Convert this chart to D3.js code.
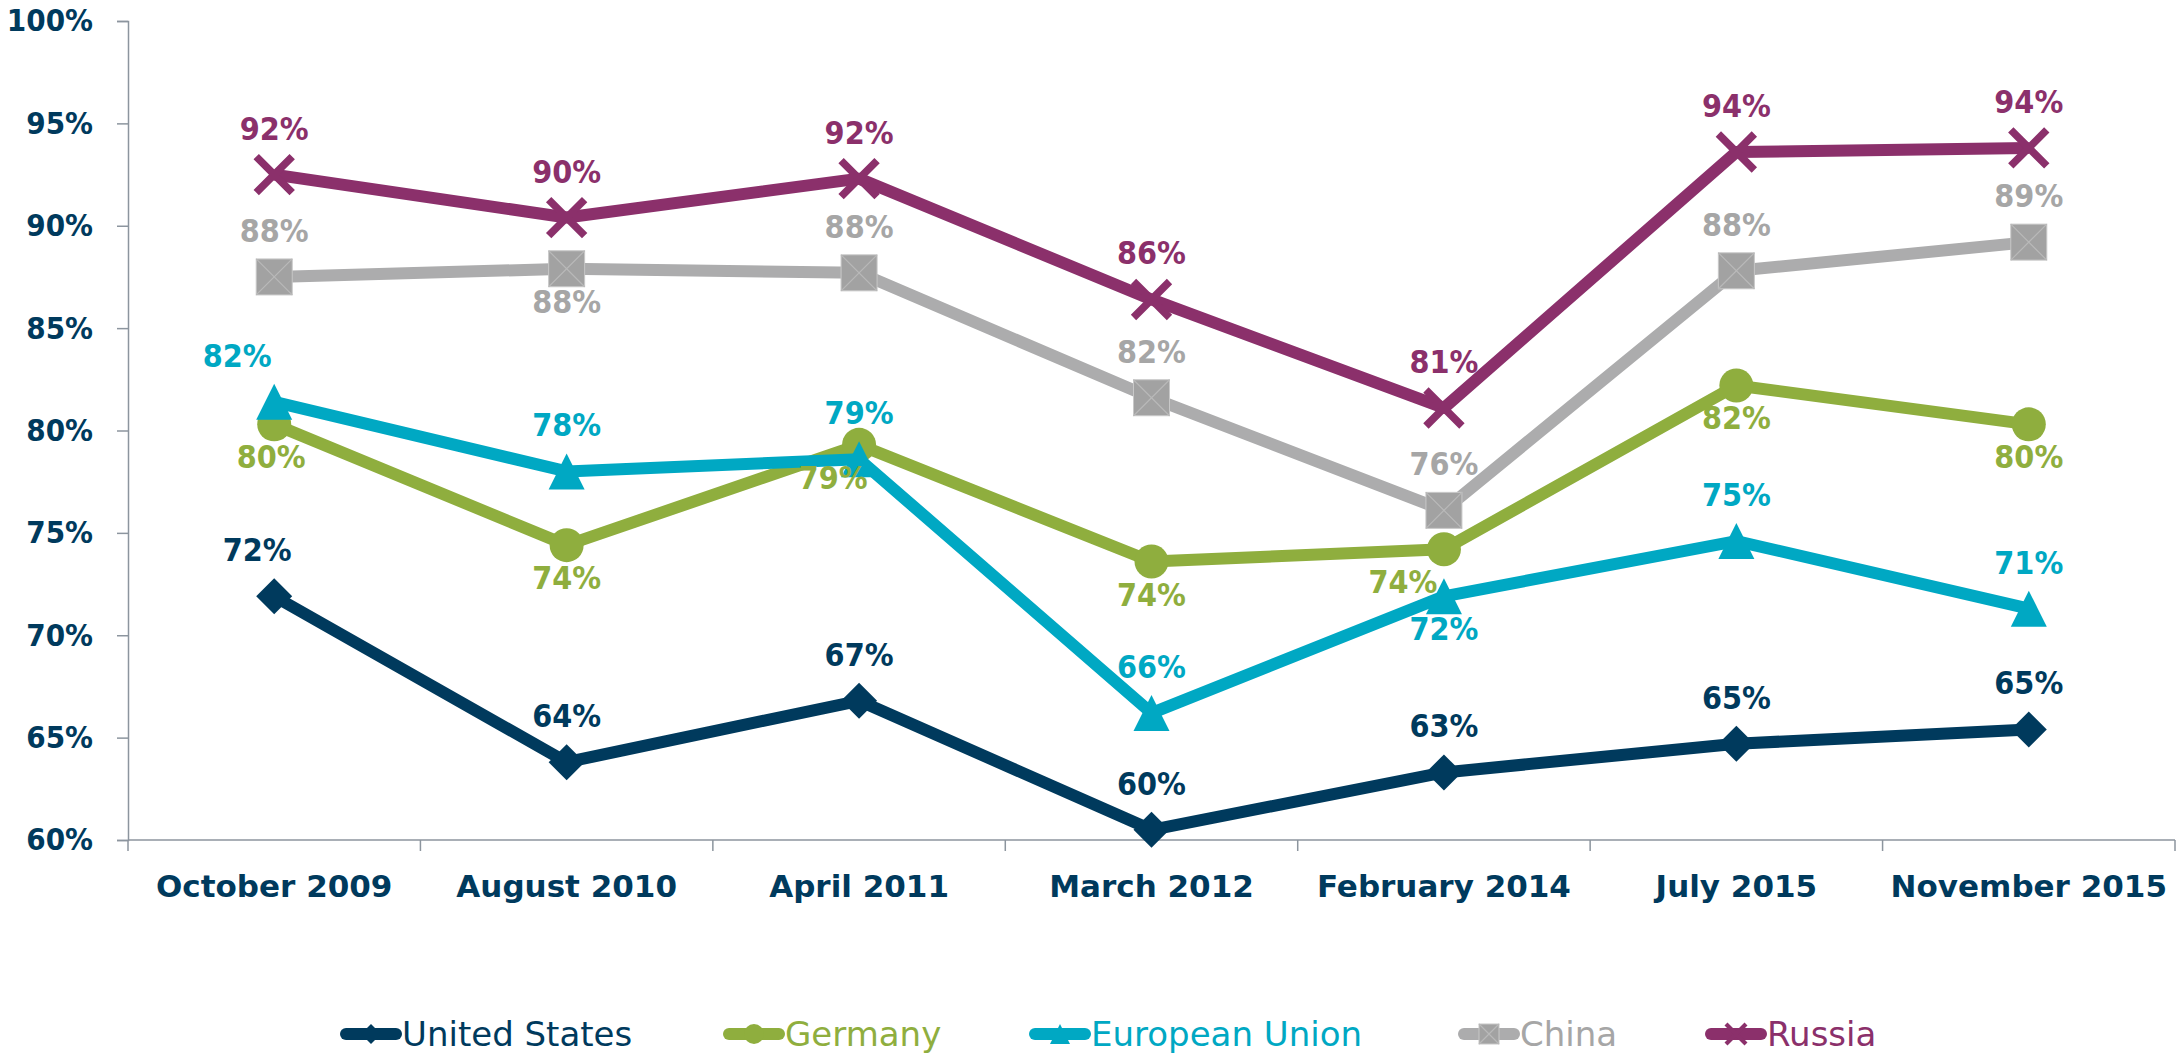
<!DOCTYPE html>
<html>
<head>
<meta charset="utf-8">
<script src="https://cdn.jsdelivr.net/npm/d3@7"></script>
<style>
  html, body { margin: 0; padding: 0; background: #fff; }
  svg { display: block; }
  text { font-family: "DejaVu Sans Condensed", "DejaVu Sans", sans-serif; font-weight: bold; }
</style>
</head>
<body>
<svg id="chart" width="2178" height="1053"></svg>
<script>
// ---- data ----
const categories = ["October 2009", "August 2010", "April 2011", "March 2012", "February 2014", "July 2015", "November 2015"];
const seriesNames = ["United States", "Germany", "European Union", "China", "Russia"];
const unitedStates = [71.9, 63.8, 66.8, 60.5, 63.3, 64.7, 65.4];
const germany      = [80.3, 74.4, 79.3, 73.6, 74.2, 82.2, 80.3];
const europeanUnion= [81.4, 78.0, 78.6, 66.2, 71.9, 74.6, 71.3];
const china        = [87.5, 87.9, 87.7, 81.6, 76.1, 87.8, 89.2];
const russia       = [92.5, 90.4, 92.3, 86.4, 81.1, 93.6, 93.8];
const labelsUS      = ["72%", "64%", "67%", "60%", "63%", "65%", "65%"];
const labelsGermany = ["80%", "74%", "79%", "74%", "74%", "82%", "80%"];
const labelsEU      = ["82%", "78%", "79%", "66%", "72%", "75%", "71%"];
const labelsChina   = ["88%", "88%", "88%", "82%", "76%", "88%", "89%"];
const labelsRussia  = ["92%", "90%", "92%", "86%", "81%", "94%", "94%"];
const yTicks = [60, 65, 70, 75, 80, 85, 90, 95, 100];

// ---- styling / layout ----
const colors = ["#003a5d", "#8fae3e", "#00a8c3", "#a6a6a6", "#8b306b"];
const lineColors = ["#003a5d", "#8fae3e", "#00a8c3", "#acacad", "#8b306b"];
const markers = ["diamond", "circle", "triangle", "square", "cross"];
const allValues = [unitedStates, germany, europeanUnion, china, russia];
const allLabels = [labelsUS, labelsGermany, labelsEU, labelsChina, labelsRussia];
// label placement: 1 = above, -1 = below
const placement = [
  [1,1,1,1,1,1,1],
  [-1,-1,-1,-1,-1,-1,-1],
  [1,1,1,1,-1,1,1],
  [1,-1,1,1,1,1,1],
  [1,1,1,1,1,1,1]
];
const labelShift = { "0-0": -17, "1-2": -26, "1-4": -41, "2-0": -37, "1-0": -3 };
const legendStarts = [340, 723, 1029, 1458, 1705];

const svg = d3.select("#chart");
const pLeft = 128, pRight = 2175, pTop = 21, pBottom = 840;
const x = d3.scaleBand().domain(categories).range([pLeft, pRight]);
const y = d3.scaleLinear().domain([60, 100]).range([pBottom, pTop]);
const axisColor = "#8c959e";
const textColor = "#003a5d";

// y axis
const yAxis = svg.append("g").attr("transform", `translate(${pLeft},0)`)
  .call(d3.axisLeft(y).tickValues(yTicks).tickSize(11).tickPadding(24).tickFormat(d => d + "%"));
yAxis.selectAll("path, line").attr("stroke", axisColor).attr("stroke-width", 1.5);
yAxis.selectAll("text").attr("fill", textColor).style("font-size", "31px")
  .style("font-family", '"DejaVu Sans Condensed", sans-serif').style("font-weight", "bold");

// x axis
const xAxis = svg.append("g").attr("transform", `translate(0,${pBottom})`)
  .call(d3.axisBottom(x).tickSize(0).tickPadding(35));
xAxis.select("path").remove();
xAxis.selectAll("text").attr("fill", textColor).style("font-size", "31px")
  .style("font-family", '"DejaVu Sans", sans-serif').style("font-weight", "bold");
svg.append("line").attr("x1", pLeft).attr("x2", pRight).attr("y1", pBottom).attr("y2", pBottom)
  .attr("stroke", axisColor).attr("stroke-width", 1.5);
const bounds = categories.map(c => x(c)).concat([x(categories[categories.length - 1]) + x.bandwidth()]);
svg.append("g").selectAll("line").data(bounds).join("line")
  .attr("x1", d => d).attr("x2", d => d).attr("y1", pBottom).attr("y2", pBottom + 11)
  .attr("stroke", axisColor).attr("stroke-width", 1.5);

// marker drawing
function drawMarker(g, type, color, s) {
  const r = s / 2;
  if (type === "diamond") {
    g.append("path").attr("d", `M0,${-r}L${r},0L0,${r}L${-r},0Z`).attr("fill", color);
  } else if (type === "circle") {
    g.append("circle").attr("r", r).attr("fill", color);
  } else if (type === "triangle") {
    g.append("path").attr("d", `M0,${-r}L${r},${r}L${-r},${r}Z`).attr("fill", color);
  } else if (type === "square") {
    g.append("rect").attr("x", -r).attr("y", -r).attr("width", s).attr("height", s).attr("fill", "#a2a2a2")
      .attr("stroke", "#c8c8c8").attr("stroke-width", 1);
    g.append("path").attr("d", `M${-r},${-r}L${r},${r}M${r},${-r}L${-r},${r}`).attr("stroke", "#b9b9b9").attr("stroke-width", 1.2);
  } else if (type === "cross") {
    g.append("path").attr("d", `M${-r},${-r}L${r},${r}M${r},${-r}L${-r},${r}`).attr("stroke", color).attr("stroke-width", s * 0.21);
  }
}

const line = d3.line().x((d, i) => x(categories[i]) + x.bandwidth() / 2).y(d => y(d));
const markerSize = [36, 34, 36, 36, 36];

seriesNames.forEach((name, si) => {
  const vals = allValues[si];
  const g = svg.append("g");
  g.append("path").datum(vals).attr("d", line).attr("fill", "none")
    .attr("stroke", lineColors[si]).attr("stroke-width", 12).attr("stroke-linejoin", "round");
  vals.forEach((v, i) => {
    const mg = g.append("g").attr("transform", `translate(${x(categories[i]) + x.bandwidth() / 2},${y(v)})`);
    drawMarker(mg, markers[si], colors[si], markerSize[si]);
  });
});

// labels
seriesNames.forEach((name, si) => {
  const vals = allValues[si];
  svg.append("g").selectAll("text").data(vals).join("text")
    .attr("x", (d, i) => x(categories[i]) + x.bandwidth() / 2 + (labelShift[si + "-" + i] || 0))
    .attr("y", (d, i) => y(d) + (placement[si][i] > 0 ? -35 : 44))
    .attr("text-anchor", "middle")
    .attr("fill", colors[si])
    .style("font-size", "32px")
    .text((d, i) => allLabels[si][i]);
});

// legend
const legend = svg.append("g").attr("transform", "translate(0,1034)");
seriesNames.forEach((name, si) => {
  const g = legend.append("g").attr("transform", `translate(${legendStarts[si]},0)`);
  g.append("line").attr("x1", 6).attr("x2", 56).attr("y1", 0).attr("y2", 0)
    .attr("stroke", lineColors[si]).attr("stroke-width", 12).attr("stroke-linecap", "round");
  const mg = g.append("g").attr("transform", "translate(31,0)");
  drawMarker(mg, markers[si], colors[si], 20);
  g.append("text").attr("x", 62).attr("y", 12).attr("fill", colors[si])
    .style("font-size", "34px").style("font-weight", "normal")
    .style("font-family", '"DejaVu Sans", sans-serif').text(name);
});
</script>
</body>
</html>
